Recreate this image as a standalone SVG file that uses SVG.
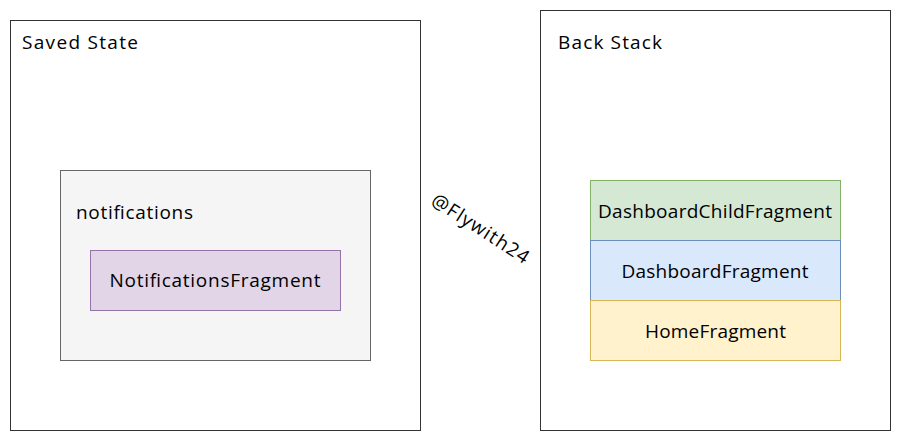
<svg xmlns="http://www.w3.org/2000/svg" width="901" height="441" viewBox="0 0 901 441">
<style>
text{font-family:"Open Sans","DejaVu Sans",sans-serif;font-size:19px;fill:#000}
.c{text-anchor:middle}
.frame{fill:#fff;stroke:#333;stroke-width:1}
</style>
<rect width="901" height="441" fill="#fff"/>
<g id="saved-state">
<rect class="frame" x="10.5" y="20.5" width="410" height="410"/>
<text x="22" y="49" textLength="116">Saved State</text>
</g>
<g id="notifications">
<rect x="60.5" y="170.5" width="310" height="190" fill="#f5f5f5" stroke="#666"/>
<text x="76" y="219" textLength="117">notifications</text>
</g>
<g id="notifications-fragment">
<rect x="90.5" y="250.5" width="250" height="60" fill="#e1d5e7" stroke="#9673a6"/>
<text class="c" x="215" y="287" textLength="211">NotificationsFragment</text>
</g>
<g id="back-stack">
<rect class="frame" x="540.5" y="10.5" width="350" height="420"/>
<text x="558" y="49" textLength="104">Back Stack</text>
</g>
<g id="dashboard-child">
<rect x="590.5" y="180.5" width="250" height="60" fill="#d5e8d4" stroke="#82b366"/>
<text class="c" x="715" y="218" textLength="234">DashboardChildFragment</text>
</g>
<g id="dashboard">
<rect x="590.5" y="240.5" width="250" height="60" fill="#dae8fc" stroke="#6c8ebf"/>
<text class="c" x="715" y="278" textLength="187">DashboardFragment</text>
</g>
<g id="home">
<rect x="590.5" y="300.5" width="250" height="60" fill="#fff2cc" stroke="#d6b656"/>
<text class="c" x="715.5" y="338" textLength="141">HomeFragment</text>
</g>
<g id="watermark">
<text class="c" transform="translate(477,234) rotate(33)" x="0" y="0" textLength="112">@Flywith24</text>
</g>
<g id="connectors"/>
</svg>
